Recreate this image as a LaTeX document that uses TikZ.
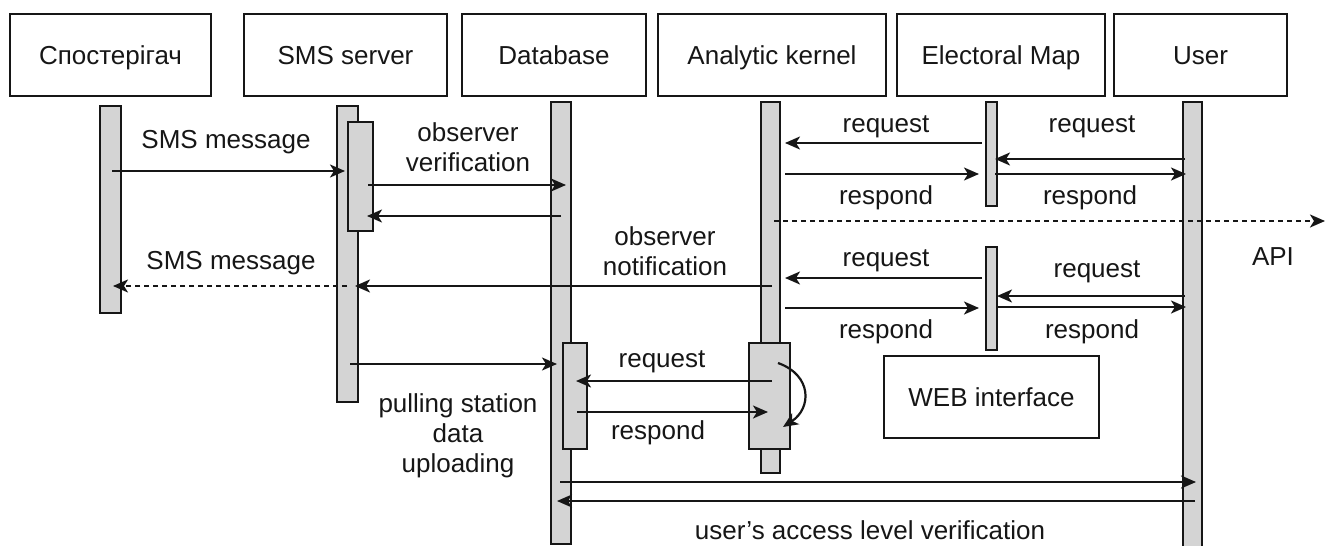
\documentclass[tikz,border=0pt]{standalone}
\usepackage{fontspec}
\setmainfont{Liberation Sans}
\usetikzlibrary{arrows.meta}
\definecolor{barfill}{HTML}{D4D4D4}
\definecolor{ink}{HTML}{161616}
\begin{document}
\begin{tikzpicture}[x=1pt, y=-1pt,
  txt/.style={font=\fontsize{26}{30}\selectfont, text=ink, inner sep=0pt, align=center},
  head/.style={txt, draw=ink, line width=2.4pt, minimum height=82pt, text height=22pt, text depth=3pt},
  bar/.style={draw=ink, fill=barfill, line width=2pt, inner sep=0pt},
  msg/.style={draw=ink, line width=2.2pt, -{Stealth[length=15pt, width=13pt, inset=4pt]}},
  ret/.style={msg, dash pattern=on 5pt off 4pt},
]
\useasboundingbox (0,0) rectangle (1326,546);

% participants
\node[head, minimum width=201pt] (hObs)  at (110.5,55)  {Спостерігач};
\node[head, minimum width=203pt] (hSms)  at (345.5,55)  {SMS server};
\node[head, minimum width=184pt] (hDb)   at (554,55)    {Database};
\node[head, minimum width=228pt] (hAk)   at (772,55)    {Analytic kernel};
\node[head, minimum width=208pt] (hMap)  at (1001,55)   {Electoral Map};
\node[head, minimum width=173pt] (hUser) at (1200.5,55) {User};

% lifelines and activations
\node[bar, minimum width=21pt, minimum height=207pt] (lObs)  at (110.5,209.5) {};
\node[bar, minimum width=21pt, minimum height=296pt] (lSms)  at (347.5,254)   {};
\node[bar, minimum width=25pt, minimum height=109pt] (aSms)  at (360.5,176.5) {};
\node[bar, minimum width=20pt, minimum height=442pt] (lDb)   at (561,323)     {};
\node[bar, minimum width=24pt, minimum height=106pt] (aDb)   at (575,396)     {};
\node[bar, minimum width=19pt, minimum height=371pt] (lAk)   at (770.5,287.5) {};
\node[bar, minimum width=41pt, minimum height=106pt] (aAk)   at (769.5,396)   {};
\node[bar, minimum width=11pt, minimum height=104pt] (aMap1) at (991.5,154)   {};
\node[bar, minimum width=11pt, minimum height=103pt] (aMap2) at (991.5,298.5) {};
\node[bar, minimum width=19pt, minimum height=470pt] (lUser) at (1192.5,337)  {};

\node[head, minimum width=215pt] (web) at (991.5,397) {WEB interface};

% message end points
\coordinate (p1a) at (112,171);   \coordinate (p1b) at (345,171);
\coordinate (p2a) at (368,185);   \coordinate (p2b) at (566,185);
\coordinate (p3a) at (561,216);   \coordinate (p3b) at (367,216);
\coordinate (p4a) at (982,143);   \coordinate (p4b) at (785,143);
\coordinate (p5a) at (785,174);   \coordinate (p5b) at (979,174);
\coordinate (p6a) at (1185,159);  \coordinate (p6b) at (995,159);
\coordinate (p7a) at (995,174);   \coordinate (p7b) at (1186,174);
\coordinate (p8a) at (774,221);   \coordinate (p8b) at (1325,221);
\coordinate (p9a) at (772,286);   \coordinate (p9b) at (355,286);
\coordinate (q1a) at (347,286);   \coordinate (q1b) at (113,286);
\coordinate (q2a) at (982,278);   \coordinate (q2b) at (785,278);
\coordinate (q3a) at (785,308);   \coordinate (q3b) at (979,308);
\coordinate (q4a) at (1185,296);  \coordinate (q4b) at (997,296);
\coordinate (q5a) at (997,307);   \coordinate (q5b) at (1186,307);
\coordinate (q6a) at (350,364);   \coordinate (q6b) at (557,364);
\coordinate (q7a) at (772,381);   \coordinate (q7b) at (576,381);
\coordinate (q8a) at (577,412);   \coordinate (q8b) at (768,412);
\coordinate (q9a) at (778,363);   \coordinate (q9b) at (783,427);
\coordinate (r1a) at (560,482);   \coordinate (r1b) at (1196,482);
\coordinate (r2a) at (1195,501);  \coordinate (r2b) at (557,501);

% messages
\draw[msg] (p1a) -- (p1b);
\draw[msg] (p2a) -- (p2b);
\draw[msg] (p3a) -- (p3b);
\draw[msg] (p4a) -- (p4b);
\draw[msg] (p5a) -- (p5b);
\draw[msg] (p6a) -- (p6b);
\draw[msg] (p7a) -- (p7b);
\draw[ret] (p8a) -- (p8b);
\draw[msg] (p9a) -- (p9b);
\draw[ret] (q1a) -- (q1b);
\draw[msg] (q2a) -- (q2b);
\draw[msg] (q3a) -- (q3b);
\draw[msg] (q4a) -- (q4b);
\draw[msg] (q5a) -- (q5b);
\draw[msg] (q6a) -- (q6b);
\draw[msg] (q7a) -- (q7b);
\draw[msg] (q8a) -- (q8b);
\draw[msg] (q9a) .. controls (812,375) and (812,408) .. (q9b);
\draw[msg] (r1a) -- (r1b);
\draw[msg] (r2a) -- (r2b);

% labels
\node[txt] (t1)  at (226,142)   {SMS message};
\node[txt] (t2)  at (468,147.5) {observer\\verification};
\node[txt] (t3)  at (886,127)   {request};
\node[txt] (t4)  at (886,198)   {respond};
\node[txt] (t5)  at (1092,127)  {request};
\node[txt] (t6)  at (1090,198)  {respond};
\node[txt] (t7)  at (1273,257)  {API};
\node[txt] (t8)  at (665,251)   {observer\\notification};
\node[txt] (t9)  at (231,263)   {SMS message};
\node[txt] (t10) at (886,261)   {request};
\node[txt] (t11) at (886,332)   {respond};
\node[txt] (t12) at (1097,272)  {request};
\node[txt] (t13) at (1092,332)  {respond};
\node[txt] (t14) at (662,362)   {request};
\node[txt] (t15) at (658,433)   {respond};
\node[txt] (t16) at (458,436)   {pulling station\\data\\uploading};
\node[txt] (t17) at (870,530)   {user's access level verification};
\end{tikzpicture}
\end{document}
